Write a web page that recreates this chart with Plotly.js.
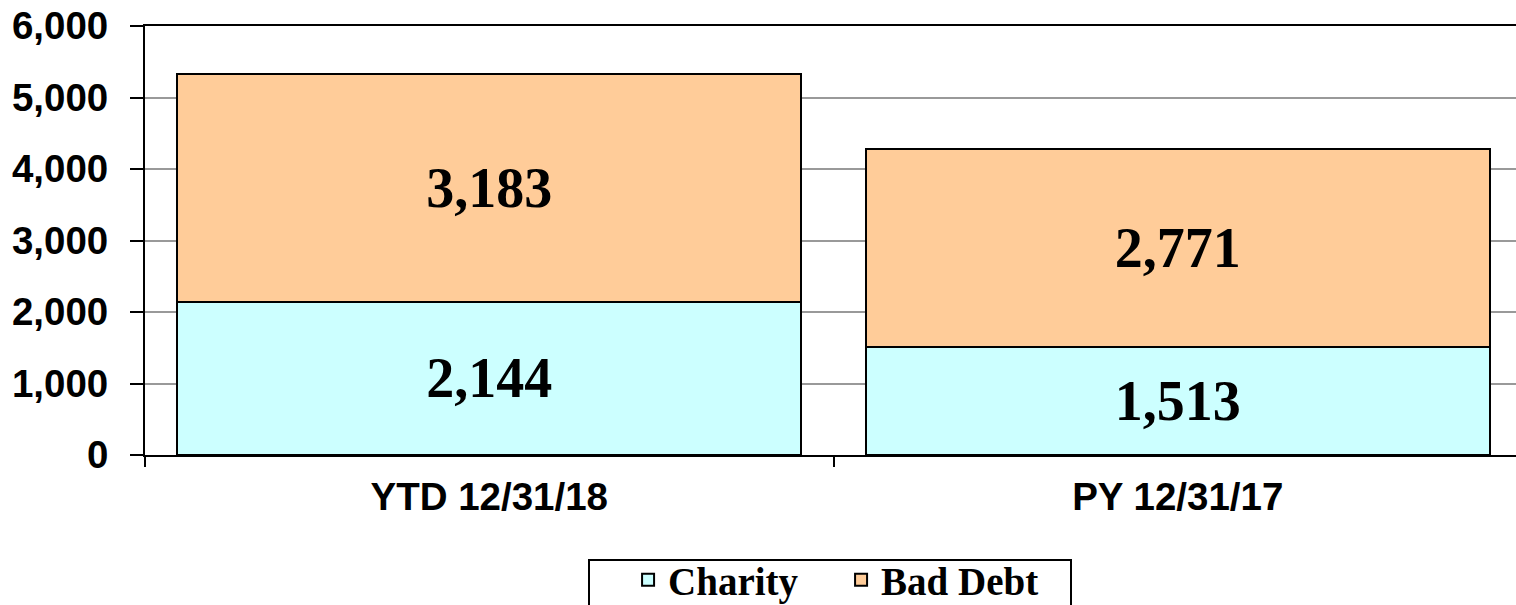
<!DOCTYPE html>
<html>
<head>
<meta charset="utf-8">
<script src="https://cdn.plot.ly/plotly-3.0.1.min.js"></script>
<style>
html,body{margin:0;padding:0;overflow:hidden;background:#fff;}
#chart{width:1522px;height:630px;}
</style>
</head>
<body>
<div id="chart"></div>
<script>
const categories = ["YTD 12/31/18", "PY 12/31/17"];
const charity = [2144, 1513];
const badDebt = [3183, 2771];
const yTicks = [0, 1000, 2000, 3000, 4000, 5000, 6000];

const labelFont = {family: "Liberation Serif", size: 56, color: "#000", weight: "bold"};

const traces = [
  {
    type: "bar", name: "Charity", x: categories, y: charity,
    marker: {color: "#CCFFFF", line: {color: "#000", width: 2}},
    texttemplate: "%{y:,}", textposition: "inside", insidetextanchor: "middle",
    textfont: labelFont, constraintext: "none", hoverinfo: "none"
  },
  {
    type: "bar", name: "Bad Debt", x: categories, y: badDebt,
    marker: {color: "#FFCC99", line: {color: "#000", width: 2}},
    texttemplate: "%{y:,}", textposition: "inside", insidetextanchor: "middle",
    textfont: labelFont, constraintext: "none", hoverinfo: "none"
  }
];

// plot area: x 145..1522 px, y 26..455 px
const px2x = p => (p - 145) / 1377;
const px2y = p => (455 - p) / 429;

const layout = {
  width: 1522, height: 630,
  margin: {l: 145, r: 0, t: 26, b: 175},
  barmode: "stack",
  bargap: 0.094,
  paper_bgcolor: "#fff", plot_bgcolor: "#fff",
  font: {family: "Liberation Sans", color: "#000"},
  xaxis: {
    type: "category", tickson: "boundaries", ticks: "outside", ticklen: 10, tickwidth: 2, tickcolor: "#000",
    showline: true, linecolor: "#000", linewidth: 2, mirror: true, showgrid: false,
    tickfont: {family: "Liberation Sans", size: 38.5, color: "#000", weight: "bold"},
    ticklabelstandoff: 7
  },
  yaxis: {
    range: [0, 6000], tickvals: yTicks, tickformat: ",d",
    ticks: "outside", ticklen: 13, tickwidth: 2, tickcolor: "#000",
    showline: true, linecolor: "#000", linewidth: 2,
    showgrid: true, gridcolor: "#999999", gridwidth: 2, zeroline: false,
    tickfont: {family: "Liberation Sans", size: 38.5, color: "#000", weight: "bold"},
    ticklabelstandoff: 14
  },
  shapes: [
    {type: "rect", xref: "paper", yref: "paper",
     x0: px2x(589), x1: px2x(1071), y0: px2y(560), y1: px2y(625),
     line: {color: "#000", width: 2}, fillcolor: "rgba(0,0,0,0)", layer: "above"}
  ],
  showlegend: true,
  legend: {
    orientation: "h", x: 0.5055, xanchor: "center", y: px2y(548), yanchor: "top",
    borderwidth: 0, bgcolor: "rgba(0,0,0,0)",
    font: {family: "Liberation Serif", size: 39, color: "#000", weight: "bold"},
    traceorder: "normal", entrywidth: 168, entrywidthmode: "pixels"
  }
};

Plotly.newPlot("chart", traces, layout, {displayModeBar: false, staticPlot: true});
</script>
</body>
</html>
